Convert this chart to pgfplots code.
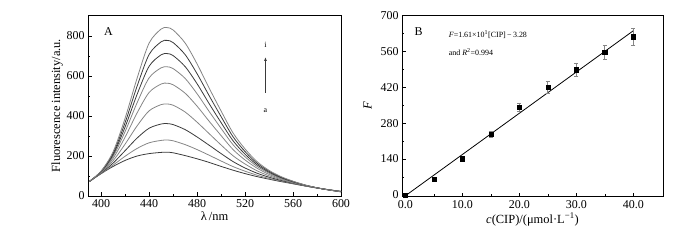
\documentclass[border=0pt]{standalone}
\usepackage{fontspec}
\setmainfont{Liberation Serif}
\usepackage{pgfplots}
\pgfplotsset{compat=1.18}
\usepackage{pgfplotstable}
\usetikzlibrary{arrows.meta}
\definecolor{dk}{HTML}{3A3A3A}
\definecolor{gy}{HTML}{858585}
\pgfplotstableread{
x a b c d e f g h i
390 72 72 72 72 72 72 72 72 72
400 112 113 115 117 119 121 122 124 125
410 148 155 165 177 189 199 207 214 222
420 178 199 227 260 295 323 346 368 390
430 200 238 290 351 416 467 509 550 590
440 212 266 339 426 518 591 649 708 765
450 218 278 360 457 560 641 706 771 835
455 219 280 362 460 564 646 712 778 842
460 216 276 357 454 556 637 702 767 830
470 202 257 332 420 514 588 647 707 765
480 186 232 295 369 449 511 561 611 660
490 168 204 254 312 374 423 462 502 540
500 148 175 212 255 302 338 367 397 425
510 129 147 172 201 232 256 276 296 315
520 112 124 140 160 180 196 209 222 235
530 97 104 114 126 139 148 156 164 172
540 84 88 94 101 108 114 119 124 128
550 72 75 78 82 86 89 92 94 97
560 61 62 64 66 68 70 71 73 74
570 50 51 51 52 53 53 54 55 55
580 40 40 40 40 41 41 41 41 41
590 31 31 31 31 31 30 30 30 30
600 23 23 23 22 22 22 21 21 21
}\spectra
\pgfplotstableread{
c F e
0 0 3
5 61 5
10 141 6
15 236 12
20 343 16
25 420 22
30 488 24
35 557 28
40 617 32
}\calib
\begin{document}
\begin{tikzpicture}
\path[use as bounding box] (0bp,0bp) rectangle (700bp,240bp);
\pgfplotsset{
  every axis/.append style={
    scale only axis,
    axis line style={line width=1pt},
    tick style={black, line width=0.6pt},
    tick align=inside,
    xtick pos=bottom, ytick pos=left,
    major tick length=4pt, minor tick length=2.5pt,
    tick label style={font=\fontsize{12}{14}\selectfont},
    label style={font=\fontsize{12.5}{14}\selectfont},
    /pgf/number format/assume math mode=true,
    clip=true,
  }
}
\begin{axis}[
  at={(88bp,44bp)}, anchor=south west,
  width=253bp, height=181bp,
  xmin=389, xmax=600, ymin=0, ymax=905,
  xtick={400,440,...,600}, minor xtick={420,460,...,580},
  ytick={0,200,...,800}, minor ytick={100,300,...,700},
  xlabel={λ\,/nm}, ylabel={Fluorescence intensity/a.u.},
  xlabel style={yshift=3pt},
  ylabel style={yshift=-3pt},
  /pgf/number format/1000 sep={},
]
\addplot[dk, line width=0.8pt, smooth] table[x=x,y=a]{\spectra};
\addplot[gy, line width=0.8pt, smooth] table[x=x,y=b]{\spectra};
\addplot[dk, line width=0.8pt, smooth] table[x=x,y=c]{\spectra};
\addplot[gy, line width=0.8pt, smooth] table[x=x,y=d]{\spectra};
\addplot[gy, line width=0.8pt, smooth] table[x=x,y=e]{\spectra};
\addplot[gy, line width=0.8pt, smooth] table[x=x,y=f]{\spectra};
\addplot[dk, line width=0.8pt, smooth] table[x=x,y=g]{\spectra};
\addplot[dk, line width=0.8pt, smooth] table[x=x,y=h]{\spectra};
\addplot[gy, line width=0.8pt, smooth] table[x=x,y=i]{\spectra};
\draw[-{Latex[length=4pt,width=3pt]}, line width=1pt, dk] (axis cs:537,517) -- (axis cs:537,695);
\node[font=\fontsize{8}{9}\selectfont] at (axis cs:537,755) {i};
\node[font=\fontsize{8}{9}\selectfont] at (axis cs:537,425) {a};
\node[font=\fontsize{12}{13}\selectfont] at (axis cs:406,822) {A};
\end{axis}
\begin{axis}[
  at={(402bp,43.3bp)}, anchor=south west,
  width=261bp, height=181.7bp,
  xmin=-0.6, xmax=45.2, ymin=-7, ymax=702,
  xtick={0,10,...,40}, minor xtick={5,15,...,35},
  ytick={0,140,...,700}, minor ytick={70,210,...,630},
  xticklabel style={/pgf/number format/.cd, fixed, fixed zerofill, precision=1},
  xlabel={\textit{c}(CIP)/(μmol·L\textsuperscript{−1})},
  ylabel={\textit{F}},
  xlabel style={yshift=2pt},
  ylabel style={yshift=2pt},
]
\addplot[black, line width=0.8pt] coordinates {(0,-3.28) (40,640.7)};
\addplot[only marks, mark=square*, mark size=2.2pt, black,
  error bars/.cd, y dir=both, y explicit,
  error bar style={gy, line width=0.8pt},
  error mark options={gy, rotate=90, mark size=2pt, line width=0.8pt}]
  table[x=c, y=F, y error=e]{\calib};
\node[font=\fontsize{12}{13}\selectfont] at (axis cs:2.3,639) {B};
\node[anchor=west, font=\fontsize{8}{9}\selectfont] at (axis cs:7.0,627) {\textit{F}=1.61×10\textsuperscript{1}[CIP]\,−\,3.28};
\node[anchor=west, font=\fontsize{8}{9}\selectfont] at (axis cs:7.0,557) {and \textit{R}\textsuperscript{2}=0.994};
\end{axis}
\end{tikzpicture}
\end{document}
